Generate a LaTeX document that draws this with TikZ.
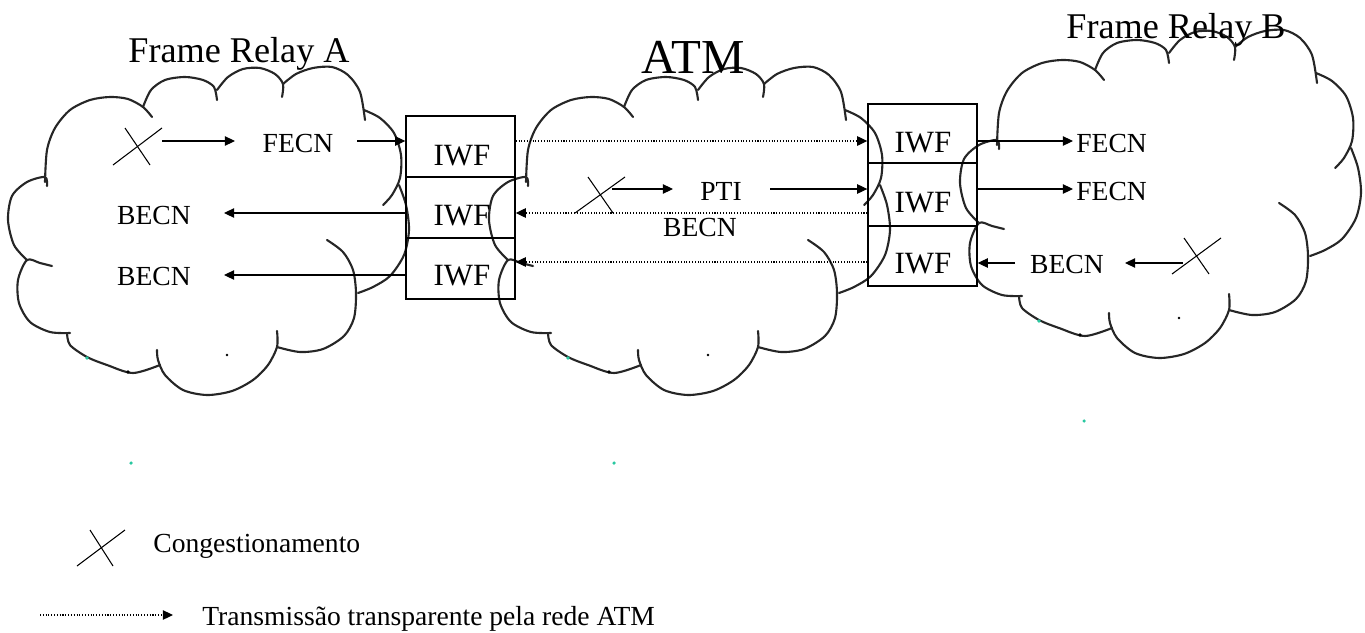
\documentclass[tikz,border=0pt]{standalone}
\usepackage{fontspec}
\setmainfont{Liberation Serif}
\usetikzlibrary{arrows.meta}
\definecolor{tealdot}{RGB}{40,200,160}
\tikzset{
  cloudline/.style={line width=1.2pt, draw=black!85, line cap=round, line join=round},
  arr/.style={-{Triangle[length=5.8pt,width=5.4pt]}, line width=0.6pt},
  darr/.style={arr, densely dotted, line width=0.7pt},
  iwfbox/.style={draw, line width=0.8pt, inner sep=0pt, minimum width=2.18cm},
  lbl/.style={inner sep=0pt, anchor=base, font=\fontsize{15.7}{18}\selectfont},
  iwflbl/.style={inner sep=0pt, anchor=base, font=\fontsize{17.6}{20}\selectfont},
  ttl/.style={inner sep=0pt, anchor=base, font=\fontsize{20.6}{24}\selectfont},
  cong/.style={line width=0.6pt},
  pics/cloud/.style={code={
    \draw[cloudline] plot[smooth] coordinates {(45,182) (47,150) (55,128) (70,110) (90,100) (110,97) (128,99) (143,107) (152,117)};
    \draw[cloudline] plot[smooth] coordinates {(143,107) (151,90) (165,80) (185,77) (203,80) (214,87) (217,100)};
    \draw[cloudline] plot[smooth] coordinates {(217,90) (228,77) (243,69) (260,68) (275,74) (283,84) (282,97)};
    \draw[cloudline] plot[smooth] coordinates {(283,84) (296,74) (313,68) (332,67) (348,75) (360,92) (365,120)};
    \draw[cloudline] plot[smooth] coordinates {(364,110) (380,118) (394,133) (401,155) (400,178) (392,195) (383,205)};
    \draw[cloudline] plot[smooth] coordinates {(399,185) (406,205) (409,230) (404,255) (390,276) (373,287) (358,293)};
    \draw[cloudline] plot[smooth] coordinates {(327,240) (343,252) (353,270) (356,293) (354,318) (344,336) (323,349) (300,352) (277,347)};
    \draw[cloudline] plot[smooth] coordinates {(277,331) (277,347) (268,365) (253,380) (232,391) (207,395) (183,390) (165,375) (158,360) (157,350)};
    \draw[cloudline] plot[smooth] coordinates {(160,365) (133,373) (107,365) (87,357) (70,345) (67,333)};
    \draw[cloudline] plot[smooth] coordinates {(70,333) (50,332) (30,322) (19,303) (18,280) (27,260) (40,263) (52,266)};
    \draw[cloudline] plot[smooth] coordinates {(27,260) (14,245) (8,220) (12,196) (27,182) (45,177) (47,186)};
    \fill (227,355) circle[radius=0.8pt];
    \fill[tealdot] (87,358) circle[radius=1.1pt];
    \fill[black] (128,372) circle[radius=1.1pt];
  }}
}
\begin{document}
\begin{tikzpicture}[x=0.02cm, y=-0.02cm]
\path[fill=white, use as bounding box] (0,0) rectangle (1365,632);

% clouds
\pic at (0,0) {cloud};
\pic at (481,0) {cloud};
\pic at (952,-37) {cloud};

% stray dots
\fill[tealdot] (131,463) circle[radius=1pt];
\fill[tealdot] (614,463) circle[radius=1pt];
\fill[tealdot] (1084,421) circle[radius=1pt];

% titles
\node[ttl] (tA) at (239,62) {Frame Relay A};
\node[inner sep=0pt, anchor=base, font=\fontsize{27.8}{31}\selectfont] (tATM) at (693,73) {ATM};
\node[ttl] (tB) at (1176,38) {Frame Relay B};

% IWF boxes
\node[iwfbox, minimum height=1.22cm] (L1) at (460.5,146.5) {};
\node[iwfbox, minimum height=1.22cm] (L2) at (460.5,207.5) {};
\node[iwfbox, minimum height=1.22cm] (L3) at (460.5,268.5) {};
\node[iwfbox, minimum height=1.18cm] (R1) at (922.5,133.5) {};
\node[iwfbox, minimum height=1.26cm] (R2) at (922.5,194.5) {};
\node[iwfbox, minimum height=1.20cm] (R3) at (922.5,256) {};
\node[iwflbl] (L1t) at (462,165) {IWF};
\node[iwflbl] (L2t) at (462,225) {IWF};
\node[iwflbl] (L3t) at (462,285) {IWF};
\node[iwflbl] (R1t) at (923,152) {IWF};
\node[iwflbl] (R2t) at (923,212) {IWF};
\node[iwflbl] (R3t) at (923,273) {IWF};

% Frame Relay A
\draw[cong] (113,165) -- (162,128);
\draw[cong] (125,128) -- (150,165);
\coordinate (a1) at (162,141);
\coordinate (a2) at (235,141);
\draw[arr] (a1) -- (a2);
\node[lbl] (fecnA) at (298,152) {FECN};
\coordinate (a3) at (357,141);
\draw[arr] (a3) -- (a3 -| L1.west);
\node[lbl] (becnA1) at (154,224) {BECN};
\coordinate (a4) at (224,213);
\draw[arr] (a4 -| L2.west) -- (a4);
\node[lbl] (becnA2) at (154,285) {BECN};
\coordinate (a5) at (224,275);
\draw[arr] (a5 -| L3.west) -- (a5);

% ATM
\draw[darr] (L1.east |- a1) -- (R1.west |- a1);
\draw[darr] (R2.west |- a4) -- (L2.east |- a4);
\coordinate (m3) at (700,262);
\draw[darr] (R3.west |- m3) -- (L3.east |- m3);
\draw[cong] (575,213) -- (625,177);
\draw[cong] (588,177) -- (613,213);
\coordinate (p1) at (612,189);
\coordinate (p2) at (673,189);
\draw[arr] (p1) -- (p2);
\node[lbl] (pti) at (721,200) {PTI};
\coordinate (p3) at (770,189);
\draw[arr] (p3) -- (p3 -| R2.west);
\node[lbl] (becnM) at (700,236) {BECN};

% Frame Relay B
\coordinate (r1) at (1073,141);
\draw[arr] (r1 -| R1.east) -- (r1);
\node[lbl, anchor=base west] (fecnB1) at (1076,152) {FECN};
\coordinate (r2) at (1073,189);
\draw[arr] (r2 -| R2.east) -- (r2);
\node[lbl, anchor=base west] (fecnB2) at (1076,200) {FECN};
\coordinate (r3) at (1015,263);
\draw[arr] (r3) -- (r3 -| R3.east);
\node[lbl] (becnB) at (1067,273) {BECN};
\coordinate (r4) at (1183,263);
\coordinate (r5) at (1125,263);
\draw[arr] (r4) -- (r5);
\draw[cong] (1172,274) -- (1221,238);
\draw[cong] (1184,238) -- (1209,274);

% legend
\draw[cong] (77,566) -- (125,530);
\draw[cong] (90,530) -- (113,566);
\node[lbl, anchor=base west] (cong) at (153,552) {Congestionamento};
\coordinate (g1) at (40,615);
\coordinate (g2) at (173,615);
\draw[darr] (g1) -- (g2);
\node[lbl, anchor=base west] (trans) at (202,625) {Transmissão transparente pela rede ATM};
\end{tikzpicture}
\end{document}
